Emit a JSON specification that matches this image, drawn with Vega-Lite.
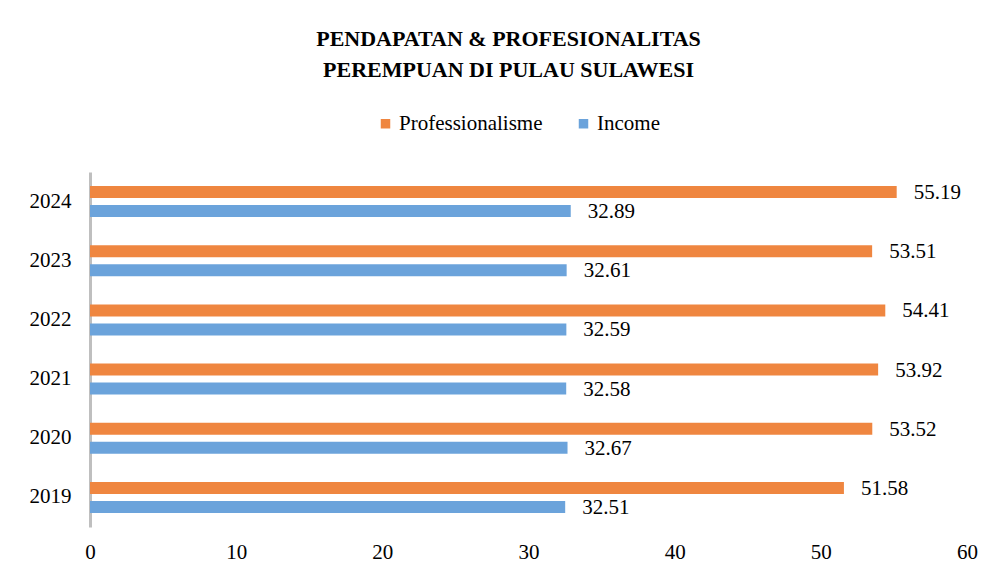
{
  "$schema": "https://vega.github.io/schema/vega-lite/v6.json",
  "width": 877,
  "height": 355,
  "autosize": {"type": "none"},
  "padding": {"left": 90, "top": 172, "right": 30, "bottom": 51},
  "background": "white",
  "title": {
    "text": ["PENDAPATAN & PROFESIONALITAS", "PEREMPUAN DI PULAU SULAWESI"],
    "font": "Liberation Serif",
    "fontSize": 22,
    "fontWeight": "bold",
    "color": "#000000",
    "anchor": "middle",
    "frame": "group",
    "dx": -20,
    "lineHeight": 31,
    "offset": 31
  },
  "data": {
    "values": [
      {"year": "2019", "series": "Professionalisme", "value": 51.58},
      {"year": "2019", "series": "Income", "value": 32.51},
      {"year": "2020", "series": "Professionalisme", "value": 53.52},
      {"year": "2020", "series": "Income", "value": 32.67},
      {"year": "2021", "series": "Professionalisme", "value": 53.92},
      {"year": "2021", "series": "Income", "value": 32.58},
      {"year": "2022", "series": "Professionalisme", "value": 54.41},
      {"year": "2022", "series": "Income", "value": 32.59},
      {"year": "2023", "series": "Professionalisme", "value": 53.51},
      {"year": "2023", "series": "Income", "value": 32.61},
      {"year": "2024", "series": "Professionalisme", "value": 55.19},
      {"year": "2024", "series": "Income", "value": 32.89}
    ]
  },
  "encoding": {
    "y": {
      "field": "year",
      "type": "nominal",
      "sort": "descending",
      "scale": {"paddingInner": 0, "paddingOuter": 0},
      "axis": {
        "title": null,
        "domainColor": "#bfbfbf",
        "domainWidth": 3,
        "ticks": false,
        "labelFont": "Liberation Serif",
        "labelFontSize": 21,
        "labelColor": "#000000",
        "labelPadding": 19
      }
    },
    "yOffset": {
      "field": "series",
      "type": "nominal",
      "sort": ["Professionalisme", "Income"],
      "scale": {"paddingInner": 0.368, "paddingOuter": 0.742}
    },
    "x": {
      "field": "value",
      "type": "quantitative",
      "scale": {"domain": [0, 60], "nice": false},
      "axis": {
        "title": null,
        "values": [0, 10, 20, 30, 40, 50, 60],
        "domain": false,
        "ticks": false,
        "grid": false,
        "labelFont": "Liberation Serif",
        "labelFontSize": 21,
        "labelColor": "#000000",
        "labelPadding": 14,
        "labelFlush": false
      }
    }
  },
  "layer": [
    {
      "mark": {"type": "bar"},
      "encoding": {
        "color": {
          "field": "series",
          "type": "nominal",
          "scale": {"domain": ["Professionalisme", "Income"], "range": ["#EF8640", "#6BA3DB"]},
          "legend": {
            "title": null,
            "orient": "none",
            "direction": "horizontal",
            "legendX": 285,
            "legendY": -59,
            "symbolType": "square",
            "symbolSize": 90,
            "symbolStrokeWidth": 0,
            "labelFont": "Liberation Serif",
            "labelFontSize": 21,
            "labelColor": "#000000",
            "labelOffset": 3,
            "columnPadding": 30
          }
        }
      }
    },
    {
      "mark": {
        "type": "text",
        "align": "left",
        "baseline": "middle",
        "dx": 17,
        "dy": 1,
        "font": "Liberation Serif",
        "fontSize": 21,
        "color": "#000000"
      },
      "encoding": {
        "text": {"field": "value", "type": "quantitative", "format": ".2f"}
      }
    }
  ],
  "config": {
    "font": "Liberation Serif",
    "view": {"stroke": null}
  }
}
